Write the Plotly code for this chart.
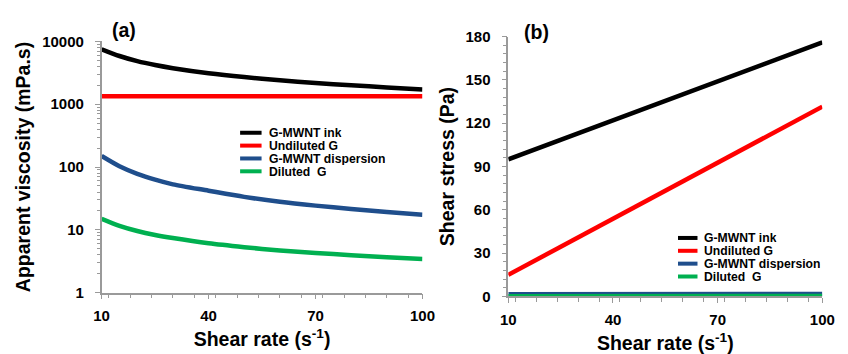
import plotly.graph_objects as go

W, H = 848, 354

series_names = ["G-MWNT ink", "Undiluted G", "G-MWNT dispersion", "Diluted  G"]
series_colors = ["#000000", "#FF0000", "#1F4E8C", "#00B050"]

# Panel (a): apparent viscosity (mPa.s) vs shear rate
rate_a = [10, 15, 20, 25, 30, 40, 50, 60, 70, 80, 90, 100]
visc_ink = [7500, 5850, 4850, 4200, 3740, 3110, 2700, 2400, 2180, 2000, 1850, 1720]
visc_undil = [1340, 1340, 1340, 1340, 1340, 1340, 1340, 1340, 1340, 1340, 1340, 1340]
visc_disp = [150, 103, 78, 63, 53, 42, 33.5, 28, 24.3, 21.5, 19.3, 17.4]
visc_dil = [15, 11.6, 9.6, 8.3, 7.4, 6.1, 5.3, 4.7, 4.3, 3.95, 3.65, 3.45]

# Panel (b): shear stress (Pa) vs shear rate
rate_b = [10, 20, 30, 40, 50, 60, 70, 80, 90, 100]
stress_ink = [95, 104, 113, 122, 131, 140, 149, 158, 167, 176]
stress_undil = [15, 28, 41, 54, 67, 80, 93, 106, 119, 131.5]
stress_disp = [1.5, 1.5, 1.5, 1.6, 1.6, 1.6, 1.7, 1.7, 1.7, 1.7]
stress_dil = [0.15, 0.2, 0.22, 0.25, 0.27, 0.29, 0.3, 0.32, 0.34, 0.35]

x_ticks = [10, 40, 70, 100]
ya_ticks = [1, 10, 100, 1000, 10000]
yb_ticks = [0, 30, 60, 90, 120, 150, 180]

FONT = "Liberation Sans, Arial, sans-serif"
AX = "#9A9A9A"

fig = go.Figure()

for name, col, ys in zip(series_names, series_colors, [visc_ink, visc_undil, visc_disp, visc_dil]):
    fig.add_trace(go.Scatter(x=rate_a, y=ys, mode="lines", name=name, showlegend=False,
                             line=dict(color=col, width=4.5, shape="spline", smoothing=0.8),
                             xaxis="x", yaxis="y"))
for name, col, ys in zip(series_names, series_colors, [stress_ink, stress_undil, stress_disp, stress_dil]):
    fig.add_trace(go.Scatter(x=rate_b, y=ys, mode="lines", name=name, showlegend=False,
                             line=dict(color=col, width=4.5), xaxis="x2", yaxis="y2"))

def xp(px):
    return px / W

def yp(py):
    return 1 - py / H

tickfont = dict(family=FONT, size=15, color="#000", weight="bold")
titlefont = dict(family=FONT, size=19.5, color="#000", weight="bold")

common_x = dict(range=[10, 100], tickvals=x_ticks, ticks="outside", ticklen=5, tickcolor=AX,
                showline=True, linecolor=AX, linewidth=1.5, showgrid=False, zeroline=False,
                tickfont=tickfont, ticklabelstandoff=4,
                minor=dict(dtick=6, ticks="outside", ticklen=4, tickcolor=AX, showgrid=False))

fig.update_layout(
    width=W, height=H, margin=dict(l=0, r=0, t=0, b=0),
    paper_bgcolor="white", plot_bgcolor="white", showlegend=False,
    xaxis=dict(domain=[xp(96), xp(425)], anchor="y",
               title=dict(text="Shear rate (s<sup>-1</sup>)", font=titlefont, standoff=9), **common_x),
    yaxis=dict(domain=[yp(298), yp(34)], anchor="x", type="log", range=[0, 4],
               tickvals=ya_ticks, ticktext=[str(v) for v in ya_ticks],
               ticks="outside", ticklen=5, tickcolor=AX, showline=True, linecolor=AX, linewidth=1.5,
               showgrid=False, zeroline=False, tickfont=tickfont, ticklabelstandoff=8,
               title=dict(text="Apparent viscosity (mPa.s)", font=titlefont, standoff=6),
               minor=dict(dtick="D1", ticks="outside", ticklen=3, tickcolor=AX, showgrid=False)),
    xaxis2=dict(domain=[xp(513), xp(835)], anchor="y2",
                title=dict(text="Shear rate (s<sup>-1</sup>)", font=titlefont, standoff=9), **common_x),
    yaxis2=dict(domain=[yp(302), yp(29)], anchor="x2", range=[0, 180], tickvals=yb_ticks,
                ticks="outside", ticklen=5, tickcolor=AX, showline=True, linecolor=AX, linewidth=1.5,
                showgrid=False, zeroline=False, tickfont=tickfont, ticklabelstandoff=8,
                title=dict(text="Shear stress (Pa)", font=titlefont, standoff=6),
                minor=dict(dtick=6, ticks="outside", ticklen=4, tickcolor=AX, showgrid=False)),
)

# panel labels
fig.add_annotation(x=xp(105), y=yp(22), xref="paper", yref="paper", text="(a)", showarrow=False,
                   xanchor="left", yanchor="middle", font=titlefont)
fig.add_annotation(x=xp(527), y=yp(24), xref="paper", yref="paper", text="(b)", showarrow=False,
                   xanchor="left", yanchor="middle", font=titlefont)

# legends
legfont = dict(family=FONT, size=12.2, color="#000", weight="bold")
for (lx0, lx1, tx, rows) in [(238, 260, 267, [130, 143.5, 157, 170.5]),
                              (687, 707, 713, [240.5, 254, 267.5, 281])]:
    for name, col, ry in zip(series_names, series_colors, rows):
        fig.add_shape(type="line", xref="paper", yref="paper", x0=xp(lx0), x1=xp(lx1),
                      y0=yp(ry), y1=yp(ry), line=dict(color=col, width=4))
        fig.add_annotation(x=xp(tx), y=yp(ry), xref="paper", yref="paper", text=name, showarrow=False,
                           xanchor="left", yanchor="middle", font=legfont, height=13,
                           borderpad=0, valign="middle")

fig.write_html("out.html")
